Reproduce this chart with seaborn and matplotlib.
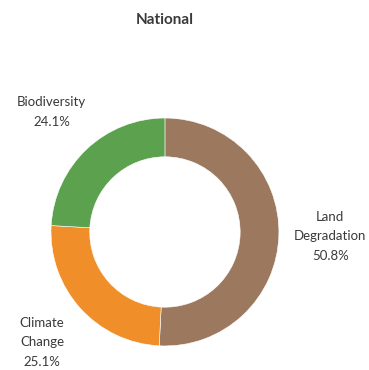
import matplotlib
matplotlib.use("Agg")

import matplotlib.pyplot as plt
import seaborn as sns

# Data
categories = ["Land\nDegradation", "Climate\nChange", "Biodiversity"]
shares = [50.8, 25.1, 24.1]
colors = ["#9C785E", "#F08F2A", "#5BA14E"]

sns.set_theme(style="white")
plt.rcParams["font.family"] = ["Lato", "DejaVu Sans"]

fig = plt.figure(figsize=(3.69, 3.70), dpi=100)
ax = fig.add_axes([0.138, 0.065, 0.618, 0.616])

labels = [f"{c}\n{v:.1f}%" for c, v in zip(categories, shares)]
wedges, texts = ax.pie(
    shares,
    colors=colors,
    labels=labels,
    startangle=90,
    counterclock=False,
    labeldistance=1.45,
    wedgeprops=dict(width=0.34, edgecolor="white", linewidth=0.4),
    textprops=dict(ha="center", va="center", fontsize=9.5, color="#3A3A3A",
                   linespacing=1.75, multialignment="center"),
)
ax.set_xlim(-1, 1)
ax.set_ylim(-1, 1)
ax.set_aspect("equal")

fig.text(0.447, 0.946, "National", ha="center", va="center",
         fontsize=11, fontweight="bold", color="#3A3A3A")

fig.savefig("out.png", dpi=100)
plt.close(fig)
